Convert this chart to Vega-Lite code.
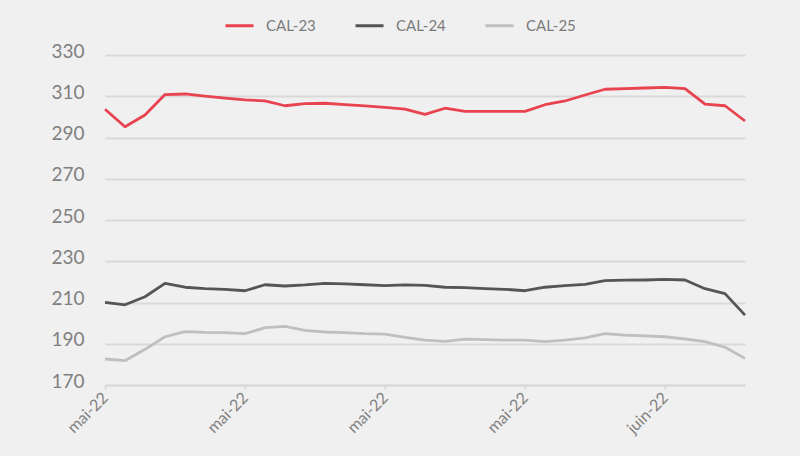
{
  "$schema": "https://vega.github.io/schema/vega-lite/v6.json",
  "autosize": "none",
  "width": 640,
  "height": 330,
  "padding": {"left": 105, "top": 55, "right": 55, "bottom": 71},
  "background": "#f0f0f0",
  "config": {
    "view": {"stroke": null},
    "font": "Lato",
    "axis": {"labelFont": "Lato", "labelColor": "#808080"},
    "legend": {"labelFont": "Lato"}
  },
  "data": {
    "values": [
      {"date": "2022-05-02", "CAL-23": 303.7, "CAL-24": 210.1, "CAL-25": 182.6},
      {"date": "2022-05-03", "CAL-23": 295.2, "CAL-24": 208.9, "CAL-25": 181.8},
      {"date": "2022-05-04", "CAL-23": 300.9, "CAL-24": 212.8, "CAL-25": 187.3},
      {"date": "2022-05-05", "CAL-23": 310.8, "CAL-24": 219.3, "CAL-25": 193.4},
      {"date": "2022-05-06", "CAL-23": 311.1, "CAL-24": 217.4, "CAL-25": 195.9},
      {"date": "2022-05-09", "CAL-23": 310.1, "CAL-24": 216.7, "CAL-25": 195.5},
      {"date": "2022-05-10", "CAL-23": 309.1, "CAL-24": 216.4, "CAL-25": 195.4},
      {"date": "2022-05-11", "CAL-23": 308.2, "CAL-24": 215.7, "CAL-25": 194.9},
      {"date": "2022-05-12", "CAL-23": 307.8, "CAL-24": 218.6, "CAL-25": 197.8},
      {"date": "2022-05-13", "CAL-23": 305.4, "CAL-24": 218.0, "CAL-25": 198.4},
      {"date": "2022-05-16", "CAL-23": 306.4, "CAL-24": 218.5, "CAL-25": 196.5},
      {"date": "2022-05-17", "CAL-23": 306.6, "CAL-24": 219.3, "CAL-25": 195.7},
      {"date": "2022-05-18", "CAL-23": 305.9, "CAL-24": 219.0, "CAL-25": 195.4},
      {"date": "2022-05-19", "CAL-23": 305.3, "CAL-24": 218.6, "CAL-25": 194.9},
      {"date": "2022-05-20", "CAL-23": 304.6, "CAL-24": 218.2, "CAL-25": 194.7},
      {"date": "2022-05-23", "CAL-23": 303.8, "CAL-24": 218.5, "CAL-25": 193.1},
      {"date": "2022-05-24", "CAL-23": 301.2, "CAL-24": 218.3, "CAL-25": 191.8},
      {"date": "2022-05-25", "CAL-23": 304.2, "CAL-24": 217.4, "CAL-25": 191.2},
      {"date": "2022-05-26", "CAL-23": 302.7, "CAL-24": 217.2, "CAL-25": 192.2},
      {"date": "2022-05-27", "CAL-23": 302.7, "CAL-24": 216.7, "CAL-25": 192.0},
      {"date": "2022-05-30", "CAL-23": 302.7, "CAL-24": 216.4, "CAL-25": 191.8},
      {"date": "2022-05-31", "CAL-23": 302.7, "CAL-24": 215.7, "CAL-25": 191.8},
      {"date": "2022-06-01", "CAL-23": 305.9, "CAL-24": 217.4, "CAL-25": 191.0},
      {"date": "2022-06-02", "CAL-23": 307.7, "CAL-24": 218.2, "CAL-25": 191.8},
      {"date": "2022-06-03", "CAL-23": 310.6, "CAL-24": 218.8, "CAL-25": 192.9},
      {"date": "2022-06-06", "CAL-23": 313.4, "CAL-24": 220.6, "CAL-25": 194.9},
      {"date": "2022-06-07", "CAL-23": 313.7, "CAL-24": 220.8, "CAL-25": 194.2},
      {"date": "2022-06-08", "CAL-23": 314.0, "CAL-24": 220.9, "CAL-25": 193.8},
      {"date": "2022-06-09", "CAL-23": 314.3, "CAL-24": 221.2, "CAL-25": 193.4},
      {"date": "2022-06-10", "CAL-23": 313.7, "CAL-24": 220.9, "CAL-25": 192.3},
      {"date": "2022-06-13", "CAL-23": 306.2, "CAL-24": 216.7, "CAL-25": 191.0},
      {"date": "2022-06-14", "CAL-23": 305.4, "CAL-24": 214.3, "CAL-25": 188.3},
      {"date": "2022-06-15", "CAL-23": 298.0, "CAL-24": 203.9, "CAL-25": 182.9}
    ]
  },
  "transform": [
    {"fold": ["CAL-23", "CAL-24", "CAL-25"], "as": ["series", "value"]}
  ],
  "mark": {"type": "line", "strokeWidth": 2.8, "strokeJoin": "round"},
  "encoding": {
    "x": {
      "field": "date",
      "type": "ordinal",
      "sort": null,
      "scale": {"type": "point", "padding": 0},
      "axis": {
        "title": null,
        "values": ["2022-05-02", "2022-05-11", "2022-05-20", "2022-05-31", "2022-06-09"],
        "labelExpr": "slice(datum.value, 5, 7) == '05' ? 'mai-22' : 'juin-22'",
        "labelAngle": -45,
        "labelAlign": "right",
        "labelBaseline": "middle",
        "labelFontSize": 16,
        "labelPadding": 6,
        "domainColor": "#d9d9d9",
        "domainWidth": 2,
        "tickColor": "#d9d9d9",
        "tickWidth": 2,
        "tickSize": 4,
        "grid": false
      }
    },
    "y": {
      "field": "value",
      "type": "quantitative",
      "scale": {"domain": [170, 330], "nice": false, "zero": false},
      "axis": {
        "title": null,
        "values": [170, 190, 210, 230, 250, 270, 290, 310, 330],
        "domain": false,
        "ticks": false,
        "grid": true,
        "gridColor": "#d9d9d9",
        "gridWidth": 2,
        "labelFontSize": 19,
        "labelPadding": 21,
        "labelOffset": -4
      }
    },
    "color": {
      "field": "series",
      "type": "nominal",
      "scale": {"domain": ["CAL-23", "CAL-24", "CAL-25"], "range": ["#e8434f", "#555555", "#bfbfbf"]},
      "legend": {
        "title": null,
        "orient": "none",
        "legendX": 119,
        "legendY": -45,
        "direction": "horizontal",
        "symbolType": "stroke",
        "symbolSize": 784,
        "symbolStrokeWidth": 3,
        "labelFontSize": 15,
        "labelColor": "#7a7a7a",
        "labelOffset": 11,
        "columnPadding": 33
      }
    }
  }
}
